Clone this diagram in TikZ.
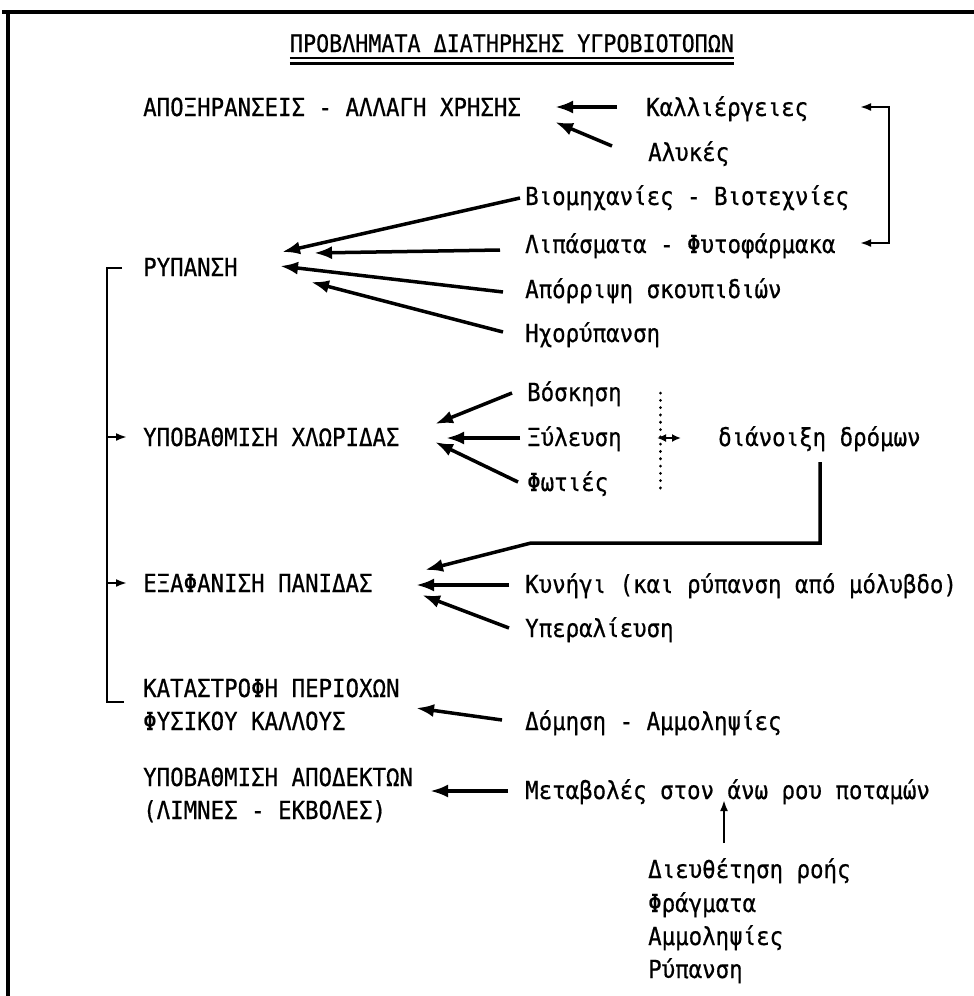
\documentclass[tikz,border=0pt]{standalone}
\usepackage{fontspec}
\newfontfamily\tw[FakeStretch=0.9,FakeBold=0.6]{DejaVu Sans Mono}
\usetikzlibrary{arrows.meta}
\tikzset{
  txt/.style={font=\tw\fontsize{24.9}{28}\selectfont, inner sep=0pt, anchor=base west},
  arr/.style={line width=3.5pt, -{Latex[length=18pt,width=13pt]}},
  brk/.style={line width=2.4pt},
  brkarr/.style={line width=2.4pt, -{Latex[length=11pt,width=8pt]}},
  frame/.style={line width=3.2pt}
}
\begin{document}
\begin{tikzpicture}[x=1pt,y=-1pt]
\useasboundingbox (0,0) rectangle (974,996);
% frame
\coordinate (tl) at (8,12);
\coordinate (tr) at (974,12);
\coordinate (t0) at (2,12);
\coordinate (bl) at (8,996);
\draw[frame] (t0) -- (tr);
\draw[frame] (tl) -- (bl);
% title
\node[txt, anchor=base, font=\tw\fontsize{24.1}{28}\selectfont] (title) at (512,52) {ΠΡΟΒΛΗΜΑΤΑ ΔΙΑΤΗΡΗΣΗΣ ΥΓΡΟΒΙΟΤΟΠΩΝ};
\draw[line width=2.2pt] ([yshift=-6pt]title.base west) -- ([yshift=-6pt]title.base east);
\draw[line width=3pt] ([yshift=-11pt]title.base west) -- ([yshift=-11pt]title.base east);
% texts
\node[txt] (apox) at (143,116) {ΑΠΟΞΗΡΑΝΣΕΙΣ - ΑΛΛΑΓΗ ΧΡΗΣΗΣ};
\node[txt] (kall) at (646,116) {Καλλιέργειες};
\node[txt] (alyk) at (648,161) {Αλυκές};
\node[txt] (viom) at (525,205) {Βιομηχανίες - Βιοτεχνίες};
\node[txt] (lip) at (525,253) {Λιπάσματα - Φυτοφάρμακα};
\node[txt] (ryp) at (143,276) {ΡΥΠΑΝΣΗ};
\node[txt] (apor) at (525,298) {Απόρριψη σκουπιδιών};
\node[txt] (hxo) at (525,342) {Ηχορύπανση};
\node[txt] (vosk) at (527,401) {Βόσκηση};
\node[txt] (ypof) at (143,446) {ΥΠΟΒΑΘΜΙΣΗ ΧΛΩΡΙΔΑΣ};
\node[txt] (xyl) at (527,446) {Ξύλευση};
\node[txt] (dian) at (718,446) {διάνοιξη δρόμων};
\node[txt] (fot) at (527,491) {Φωτιές};
\node[txt] (exaf) at (143,592) {ΕΞΑΦΑΝΙΣΗ ΠΑΝΙΔΑΣ};
\node[txt] (kyn) at (525,593) {Κυνήγι (και ρύπανση από μόλυβδο)};
\node[txt] (yper) at (525,637) {Υπεραλίευση};
\node[txt] (kat1) at (143,697) {ΚΑΤΑΣΤΡΟΦΗ ΠΕΡΙΟΧΩΝ};
\node[txt] (kat2) at (143,730) {ΦΥΣΙΚΟΥ ΚΑΛΛΟΥΣ};
\node[txt] (dom) at (525,730) {Δόμηση - Αμμοληψίες};
\node[txt] (ypa1) at (143,786) {ΥΠΟΒΑΘΜΙΣΗ ΑΠΟΔΕΚΤΩΝ};
\node[txt] (ypa2) at (143,819) {(ΛΙΜΝΕΣ - ΕΚΒΟΛΕΣ)};
\node[txt] (meta) at (525,799) {Μεταβολές στον άνω ρου ποταμών};
\node[txt] (d1) at (648,878) {Διευθέτηση ροής};
\node[txt] (d2) at (648,912) {Φράγματα};
\node[txt] (d3) at (648,945) {Αμμοληψίες};
\node[txt] (d4) at (648,978) {Ρύπανση};
% arrow end coordinates
\coordinate (a1s) at (617,107); \coordinate (a1e) at (555,107);
\coordinate (a2s) at (612,146); \coordinate (a2e) at (555,122);
\coordinate (rb1) at (860,107); \coordinate (rb2) at (889,107);
\coordinate (rb3) at (889,243); \coordinate (rb4) at (860,243);
\coordinate (b1s) at (520,198); \coordinate (b1e) at (282,252);
\coordinate (b2s) at (500,250); \coordinate (b2e) at (314,253);
\coordinate (b3s) at (503,292); \coordinate (b3e) at (280,266);
\coordinate (b4s) at (503,332); \coordinate (b4e) at (311,282);
\coordinate (c1s) at (512,393); \coordinate (c1e) at (435,424);
\coordinate (c2s) at (520,438); \coordinate (c2e) at (446,438);
\coordinate (c3s) at (518,482); \coordinate (c3e) at (435,442);
\coordinate (dt1) at (660,393); \coordinate (dt2) at (660,489);
\coordinate (sa1) at (657,438); \coordinate (sa2) at (681,438);
\coordinate (r1) at (820,462); \coordinate (r2) at (820,543);
\coordinate (r3) at (531,543); \coordinate (r4) at (425,570);
\coordinate (e1s) at (509,585); \coordinate (e1e) at (416,585);
\coordinate (e2s) at (509,628); \coordinate (e2e) at (422,595);
\coordinate (lb0) at (122,268); \coordinate (lb1) at (107,268);
\coordinate (lb2) at (107,702); \coordinate (lb3) at (124,702);
\coordinate (lbA) at (107,437); \coordinate (lbAe) at (127,437);
\coordinate (lbB) at (107,583); \coordinate (lbBe) at (127,583);
\coordinate (f1s) at (502,720); \coordinate (f1e) at (416,708);
\coordinate (g1s) at (508,791); \coordinate (g1e) at (430,791);
\coordinate (h1s) at (724,843); \coordinate (h1e) at (724,800);
% arrows
\draw[arr] (a1s) -- (a1e);
\draw[arr] (a2s) -- (a2e);
\draw[brk, {Latex[length=11pt,width=8pt]}-{Latex[length=11pt,width=8pt]}] (rb1) -- (rb2) -- (rb3) -- (rb4);
\draw[arr] (b1s) -- (b1e);
\draw[arr] (b2s) -- (b2e);
\draw[arr] (b3s) -- (b3e);
\draw[arr] (b4s) -- (b4e);
\draw[arr] (c1s) -- (c1e);
\draw[arr] (c2s) -- (c2e);
\draw[arr] (c3s) -- (c3e);
\draw[line width=3pt, line cap=round, dash pattern=on 0.1pt off 7.2pt] (dt1) -- (dt2);
\draw[line width=2.6pt, {Latex[length=9pt,width=8pt]}-{Latex[length=9pt,width=8pt]}] (sa1) -- (sa2);
\draw[arr] (r1) -- (r2) -- (r3) -- (r4);
\draw[arr] (e1s) -- (e1e);
\draw[arr] (e2s) -- (e2e);
\draw[brk] (lb0) -- (lb1) -- (lb2) -- (lb3);
\draw[brkarr] (lbA) -- (lbAe);
\draw[brkarr] (lbB) -- (lbBe);
\draw[arr] (f1s) -- (f1e);
\draw[arr] (g1s) -- (g1e);
\draw[line width=2.4pt, -{Latex[length=11pt,width=8pt]}] (h1s) -- (h1e);
\end{tikzpicture}
\end{document}
